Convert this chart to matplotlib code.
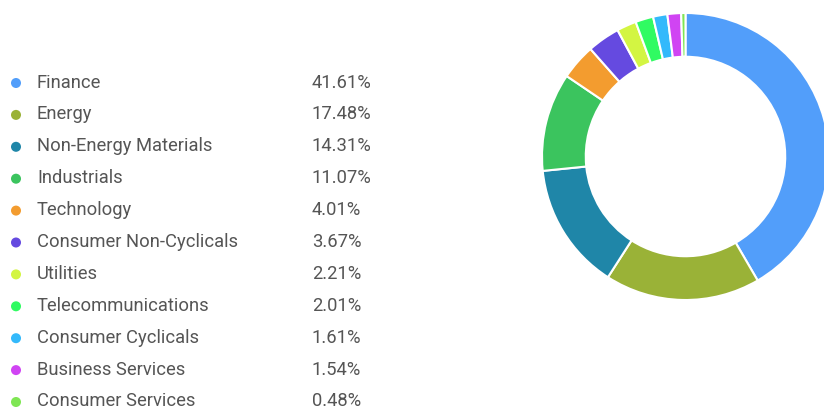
import matplotlib.pyplot as plt

sectors = ["Finance", "Energy", "Non-Energy Materials", "Industrials", "Technology",
           "Consumer Non-Cyclicals", "Utilities", "Telecommunications",
           "Consumer Cyclicals", "Business Services", "Consumer Services"]
weights = [41.61, 17.48, 14.31, 11.07, 4.01, 3.67, 2.21, 2.01, 1.61, 1.54, 0.48]
colors = ["#529efa", "#9ab237", "#1f86a8", "#3bc45e", "#f39c2f", "#654ae0",
          "#d3f542", "#30fb62", "#33b9fb", "#d044f3", "#7fe654"]

W, H = 824, 412
fig = plt.figure(figsize=(W / 100, H / 100), dpi=100)

# donut, centre (685.5, 156.5) px, radius 143.5 px
cx, cy, r = 685.5, 156.5, 143.5
pax = fig.add_axes([(cx - r) / W, (H - cy - r) / H, 2 * r / W, 2 * r / H])
pax.pie(weights, colors=colors, startangle=90, counterclock=False, radius=1,
        wedgeprops=dict(width=0.305, edgecolor="white", linewidth=1.5))
pax.set_xlim(-1, 1)
pax.set_ylim(-1, 1)
pax.set_aspect("equal")
pax.axis("off")

# legend drawn in pixel coordinates
lax = fig.add_axes([0, 0, 1, 1])
lax.set_xlim(0, W)
lax.set_ylim(H, 0)
lax.axis("off")
txt = "#555555"
for i, (name, w, c) in enumerate(zip(sectors, weights, colors)):
    y = 82 + i * 31.9
    lax.scatter([16], [y + 1], s=52, color=c, edgecolors="none")
    lax.text(37, y + 0.5, name, fontsize=13.2, color=txt, va="center", family="Roboto")
    lax.text(312, y + 0.5, f"{w:.2f}%", fontsize=13.2, color=txt, va="center", family="Roboto")

fig.savefig("out.png", dpi=100)
